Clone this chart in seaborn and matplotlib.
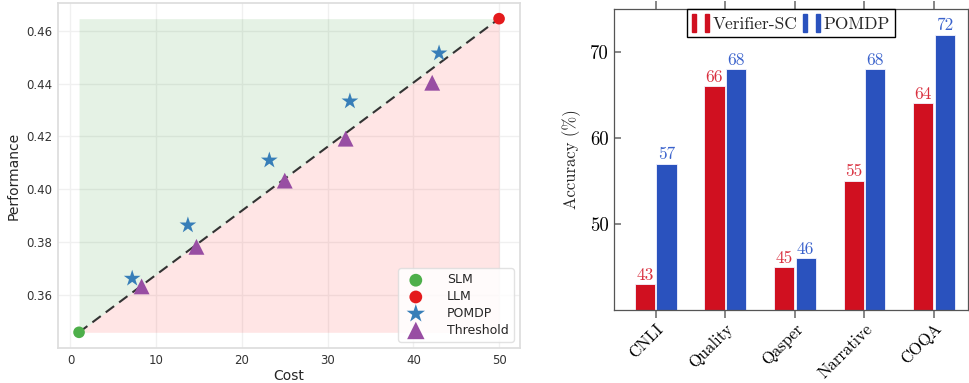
import numpy as np
import pandas as pd
import matplotlib
matplotlib.use("Agg")
import matplotlib.pyplot as plt
import seaborn as sns
from matplotlib.patches import Patch
from matplotlib.legend_handler import HandlerTuple

# DATA
slm_cost = [1.0]
slm_perf = [0.3457]
llm_cost = [50.0]
llm_perf = [0.4646]

pomdp_cost = [7.2, 13.7, 23.2, 32.6, 43.0]
pomdp_perf = [0.3661, 0.3863, 0.4109, 0.4333, 0.4515]
thr_cost = [8.3, 14.7, 25.0, 32.1, 42.2]
thr_perf = [0.3631, 0.3781, 0.4032, 0.4191, 0.4403]

datasets = ["CNLI", "Quality", "Qasper", "Narrative", "COQA"]
verifier_acc = [43, 66, 45, 55, 64]
pomdp_acc = [57, 68, 46, 68, 72]

# STYLE
sns.set_theme(style="whitegrid")
plt.rcParams.update({
    "font.family": ["DejaVu Sans"],
    "axes.edgecolor": "#dddddd",
    "grid.color": "#f0f0f0",
})

fig = plt.figure(figsize=(9.69, 3.83), dpi=100)

# LEFT: cost vs performance
ax1 = fig.add_axes([0.0599, 0.0914, 0.4768, 0.9008])

x_line = np.array([slm_cost[0], llm_cost[0]])
y_line = np.array([slm_perf[0], llm_perf[0]])
ax1.fill_between(x_line, y_line, llm_perf[0], color="green", alpha=0.1, lw=0)
ax1.fill_between(x_line, slm_perf[0], y_line, color="red", alpha=0.1, lw=0)
ax1.plot(x_line, y_line, ls=(0, (5, 3)), color="#333333", lw=1.5, zorder=2)

sns.scatterplot(x=slm_cost, y=slm_perf, ax=ax1, color="#4daf4a", s=70,
                marker="o", edgecolor="none", label="SLM", zorder=3)
sns.scatterplot(x=llm_cost, y=llm_perf, ax=ax1, color="#e41a1c", s=70,
                marker="o", edgecolor="none", label="LLM", zorder=3)
sns.scatterplot(x=pomdp_cost, y=pomdp_perf, ax=ax1, color="#377eb8", s=160,
                marker="*", edgecolor="none", label="POMDP", zorder=3)
sns.scatterplot(x=thr_cost, y=thr_perf, ax=ax1, color="#984ea3", s=130,
                marker="^", edgecolor="none", label="Threshold", zorder=3)

ax1.set_xticks([0, 10, 20, 30, 40, 50])
ax1.set_yticks([0.36, 0.38, 0.40, 0.42, 0.44, 0.46])
ax1.set_yticklabels([f"{v:.2f}" for v in [0.36, 0.38, 0.40, 0.42, 0.44, 0.46]])
ax1.tick_params(labelsize=8.5, length=0, pad=4, colors="#333333")
ax1.set_xlabel("Cost", fontsize=10, labelpad=2)
ax1.set_ylabel("Performance", fontsize=10, labelpad=4)
ax1.legend(loc="lower right", fontsize=9, handletextpad=1.5,
           borderpad=0.4, labelspacing=0.3, framealpha=0.85,
           edgecolor="#dddddd", markerscale=1.1)

# RIGHT: accuracy bars
ax2 = fig.add_axes([0.6336, 0.1906, 0.3654, 0.7867])
ax2.grid(False)
df = pd.DataFrame({
    "dataset": datasets * 2,
    "acc": verifier_acc + pomdp_acc,
    "method": ["Verifier-SC"] * len(datasets) + ["POMDP"] * len(datasets),
})
red, blue = "#d01020", "#2a52be"
sns.barplot(data=df, x="dataset", y="acc", hue="method",
            palette=[red, blue], width=0.62, gap=0.07, ax=ax2,
            edgecolor="#f4f4ff", linewidth=0.6, legend=False, saturation=1)

serif = ["cmr10", "DejaVu Serif"]
label_cols = ["#d9303f", "#3a62cc"]
for cont, col in zip(ax2.containers, label_cols):
    ax2.bar_label(cont, padding=1, color=col, fontsize=12.5, family=serif)

ax2.set_ylim(40, 75)
ax2.set_xlim(-0.60, 4.49)
ax2.set_yticks([50, 60, 70])
ax2.set_xlabel("")
ax2.set_ylabel("Accuracy (%)", fontsize=12, family=serif, labelpad=6)
for lab in ax2.get_yticklabels():
    lab.set_family(serif)
    lab.set_fontsize(13.5)
ax2.set_xticks(range(len(datasets)))
ax2.set_xticklabels(datasets, rotation=45, ha="right",
                    rotation_mode="anchor", family=serif, fontsize=12)
for sp in ax2.spines.values():
    sp.set_color("#555555")
    sp.set_linewidth(0.9)
ax2.tick_params(axis="y", direction="in", length=5, color="#777777",
                labelcolor="black", pad=4, left=True)
ax2.tick_params(axis="x", direction="out", length=6, color="#777777",
                labelcolor="black", pad=2, bottom=True, top=True)

handles = [(Patch(color=red), Patch(color=red)),
           (Patch(color=blue), Patch(color=blue))]
leg = ax2.legend(handles, ["Verifier-SC", "POMDP"], ncol=2,
                 handler_map={tuple: HandlerTuple(ndivide=None, pad=0.5)},
                 loc="upper center", bbox_to_anchor=(0.5, 1.0),
                 bbox_transform=ax2.transAxes,
                 prop={"family": serif, "size": 12.5}, fancybox=False,
                 edgecolor="black", framealpha=1, handlelength=1.0,
                 handleheight=1.2, handletextpad=0.2, columnspacing=0.3,
                 borderpad=0.3, borderaxespad=0.0)
leg.get_frame().set_linewidth(1.0)

fig.savefig("out.png", dpi=100)
